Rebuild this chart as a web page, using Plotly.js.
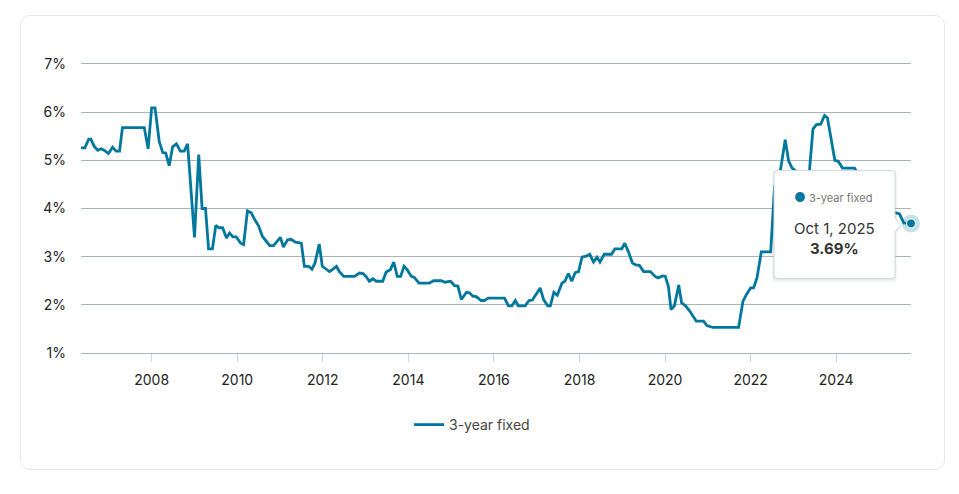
<!DOCTYPE html>
<html>
<head>
<meta charset="utf-8">
<script src="https://cdn.plot.ly/plotly-3.0.1.min.js"></script>
<style>
  html, body { margin: 0; padding: 0; background: #ffffff; }
  #card { position: absolute; left: 20px; top: 15px; width: 923px; height: 453px;
          border: 1px solid #e3e8ee; border-radius: 10px; background: #ffffff; }
  #chart { position: absolute; left: 0; top: 0; width: 959px; height: 494px; }
</style>
</head>
<body>
<div id="card"></div>
<div id="chart"></div>
<script>
// ---- data (decimal year, rate %) ----
const seriesName = "3-year fixed";
const years = [
  2006.35, 2006.44, 2006.53, 2006.58, 2006.66, 2006.74, 2006.82, 2006.89, 2006.99, 2007.09,
  2007.17, 2007.25, 2007.32, 2007.83, 2007.92, 2008.00, 2008.08, 2008.18, 2008.26, 2008.33,
  2008.41, 2008.49, 2008.58, 2008.67, 2008.76, 2008.84, 2009.00, 2009.10, 2009.18, 2009.26,
  2009.33, 2009.42, 2009.50, 2009.57, 2009.66, 2009.75, 2009.82, 2009.90, 2009.98, 2010.08,
  2010.15, 2010.24, 2010.33, 2010.40, 2010.50, 2010.59, 2010.68, 2010.76, 2010.85, 2010.93,
  2011.01, 2011.08, 2011.18, 2011.26, 2011.36, 2011.50, 2011.57, 2011.67, 2011.75, 2011.82,
  2011.92, 2011.99, 2012.08, 2012.16, 2012.24, 2012.32, 2012.39, 2012.49, 2012.74, 2012.86,
  2012.94, 2013.01, 2013.09, 2013.17, 2013.25, 2013.40, 2013.48, 2013.58, 2013.66, 2013.74,
  2013.82, 2013.90, 2013.97, 2014.07, 2014.14, 2014.25, 2014.49, 2014.59, 2014.77, 2014.86,
  2014.99, 2015.08, 2015.16, 2015.24, 2015.36, 2015.43, 2015.51, 2015.59, 2015.70, 2015.78,
  2015.87, 2016.25, 2016.34, 2016.42, 2016.50, 2016.57, 2016.73, 2016.82, 2016.90, 2016.99,
  2017.08, 2017.16, 2017.26, 2017.32, 2017.40, 2017.48, 2017.59, 2017.66, 2017.74, 2017.82,
  2017.90, 2017.98, 2018.06, 2018.16, 2018.24, 2018.33, 2018.41, 2018.48, 2018.58, 2018.75,
  2018.83, 2018.99, 2019.06, 2019.14, 2019.24, 2019.32, 2019.40, 2019.50, 2019.66, 2019.77,
  2019.84, 2019.94, 2020.01, 2020.08, 2020.14, 2020.22, 2020.32, 2020.39, 2020.48, 2020.57,
  2020.65, 2020.73, 2020.90, 2020.98, 2021.12, 2021.72, 2021.82, 2021.90, 2022.00, 2022.07,
  2022.15, 2022.25, 2022.47, 2022.56, 2022.70, 2022.81, 2022.89, 2022.97, 2023.04, 2023.12,
  2023.22, 2023.30, 2023.38, 2023.46, 2023.54, 2023.64, 2023.73, 2023.80, 2023.86, 2023.92,
  2023.97, 2024.05, 2024.15, 2024.43, 2024.52, 2024.60, 2024.70, 2024.78, 2024.88, 2024.97,
  2025.05, 2025.15, 2025.25, 2025.40, 2025.48, 2025.58, 2025.75
];
const rates = [
  5.26, 5.26, 5.44, 5.44, 5.29, 5.21, 5.24, 5.21, 5.14, 5.27,
  5.19, 5.19, 5.68, 5.68, 5.24, 6.09, 6.09, 5.39, 5.16, 5.15,
  4.89, 5.28, 5.34, 5.19, 5.19, 5.34, 3.40, 5.12, 4.00, 4.00,
  3.16, 3.16, 3.65, 3.60, 3.60, 3.39, 3.49, 3.41, 3.41, 3.28,
  3.25, 3.95, 3.91, 3.78, 3.64, 3.42, 3.32, 3.23, 3.23, 3.31,
  3.40, 3.20, 3.35, 3.36, 3.30, 3.28, 2.80, 2.80, 2.74, 2.87,
  3.26, 2.80, 2.74, 2.69, 2.74, 2.80, 2.69, 2.59, 2.59, 2.66,
  2.65, 2.59, 2.49, 2.54, 2.49, 2.49, 2.68, 2.73, 2.89, 2.59,
  2.59, 2.80, 2.73, 2.59, 2.57, 2.45, 2.45, 2.50, 2.50, 2.47,
  2.49, 2.40, 2.39, 2.11, 2.26, 2.25, 2.18, 2.17, 2.09, 2.09,
  2.14, 2.14, 1.98, 1.98, 2.09, 1.98, 1.98, 2.09, 2.10, 2.23,
  2.35, 2.11, 1.98, 1.98, 2.26, 2.20, 2.45, 2.49, 2.65, 2.49,
  2.67, 2.69, 2.99, 3.01, 3.05, 2.89, 2.99, 2.89, 3.05, 3.05,
  3.16, 3.16, 3.28, 3.11, 2.87, 2.83, 2.82, 2.69, 2.69, 2.59,
  2.56, 2.60, 2.59, 2.38, 1.90, 1.98, 2.41, 2.04, 1.98, 1.88,
  1.78, 1.66, 1.66, 1.57, 1.53, 1.53, 2.07, 2.21, 2.35, 2.35,
  2.56, 3.10, 3.10, 4.45, 4.80, 5.43, 4.99, 4.84, 4.79, 4.62,
  4.58, 4.66, 4.81, 5.65, 5.74, 5.75, 5.93, 5.88, 5.57, 5.26,
  5.00, 4.98, 4.84, 4.84, 4.70, 4.62, 4.45, 4.30, 4.15, 4.05,
  4.00, 3.96, 3.93, 3.91, 3.89, 3.70, 3.69
];
const yTicks = [1, 2, 3, 4, 5, 6, 7];
const monthNames = ["Jan","Feb","Mar","Apr","May","Jun","Jul","Aug","Sep","Oct","Nov","Dec"];

// ---- helpers ----
function yearToDate(y) {
  const yr = Math.floor(y);
  const s = Date.UTC(yr, 0, 1), e = Date.UTC(yr + 1, 0, 1);
  return new Date(s + (y - yr) * (e - s)).toISOString().slice(0, 10);
}
const dates = years.map(yearToDate);
const lastDate = dates[dates.length - 1];
const lastRate = rates[rates.length - 1];
const ld = new Date(lastDate + "T00:00:00Z");
const lastDateLabel = monthNames[ld.getUTCMonth()] + " " + ld.getUTCDate() + ", " + ld.getUTCFullYear();

const COLOR = "#00779c";
const GRID = "#aab4be";
const FONT = "Inter, 'Noto Sans', 'DejaVu Sans', sans-serif";

// layout geometry (pixels in the 959x494 figure)
const W = 959, H = 494;
const M = { l: 81, r: 48, t: 64, b: 141 };
const PW = W - M.l - M.r, PH = H - M.t - M.b;
const px = x => (x - M.l) / PW;
const py = y => (H - M.b - y) / PH;

// tooltip box path (paper coords)
const bx0 = px(774), bx1 = px(895), byT = py(170.5), byB = py(278.5);
const rx = 4 / PW, ry = 4 / PH;
const ax = px(901), ay1 = py(218), ay = py(225), ay2 = py(232);
function boxPath(dx, dy, grow) {
  const gx = grow / PW, gy = grow / PH;
  const x0 = bx0 - gx + dx / PW, x1 = bx1 + gx + dx / PW;
  const yt = byT + gy - dy / PH, yb = byB - gy - dy / PH;
  return `M ${x0 + rx},${yt} L ${x1 - rx},${yt} Q ${x1},${yt} ${x1},${yt - ry} ` +
         `L ${x1},${ay1 - dy / PH} L ${ax + dx / PW},${ay - dy / PH} L ${x1},${ay2 - dy / PH} ` +
         `L ${x1},${yb + ry} Q ${x1},${yb} ${x1 - rx},${yb} L ${x0 + rx},${yb} ` +
         `Q ${x0},${yb} ${x0},${yb + ry} L ${x0},${yt - ry} Q ${x0},${yt} ${x0 + rx},${yt} Z`;
}

const traces = [
  {
    x: dates, y: rates, type: "scatter", mode: "lines", name: seriesName,
    line: { color: COLOR, width: 2.8, shape: "linear" },
    hoverinfo: "skip"
  },
  {
    x: [lastDate], y: [lastRate], type: "scatter", mode: "markers", showlegend: false,
    marker: { size: 18, color: "rgba(0,119,156,0.22)" }, hoverinfo: "skip", cliponaxis: false
  },
  {
    x: [lastDate], y: [lastRate], type: "scatter", mode: "markers", showlegend: false,
    marker: { size: 9, color: COLOR, line: { color: "#ffffff", width: 1 } }, hoverinfo: "skip", cliponaxis: false
  }
];

const layout = {
  width: W, height: H,
  margin: M,
  paper_bgcolor: "rgba(0,0,0,0)",
  plot_bgcolor: "rgba(0,0,0,0)",
  font: { family: FONT, size: 14, color: "#222222" },
  showlegend: true,
  legend: {
    orientation: "h", x: px(472), xanchor: "center", y: py(425), yanchor: "middle",
    font: { family: FONT, size: 14, color: "#444444" }, bgcolor: "rgba(0,0,0,0)"
  },
  xaxis: {
    type: "date", range: [dates[0], lastDate],
    tick0: "2008-01-01", dtick: "M24", tickformat: "%Y",
    showgrid: false, zeroline: false,
    showline: true, mirror: true, linecolor: GRID, linewidth: 1,
    ticks: "outside", ticklen: 8, tickcolor: "#c9d5e0", tickwidth: 1,
    ticklabelstandoff: 6,
    tickfont: { family: FONT, size: 14, color: "#222222" },
    fixedrange: true
  },
  yaxis: {
    range: [yTicks[0], yTicks[yTicks.length - 1]],
    tickvals: yTicks, ticktext: yTicks.map(v => v + "%"),
    showgrid: true, gridcolor: GRID, gridwidth: 1,
    zeroline: false, showline: false, ticks: "",
    ticklabelstandoff: 14,
    tickfont: { family: FONT, size: 14, color: "#222222" },
    fixedrange: true
  },
  shapes: [
    { type: "path", xref: "paper", yref: "paper", path: boxPath(0, 2, 2), fillcolor: "rgba(0,0,0,0.035)", line: { width: 0 }, layer: "above" },
    { type: "path", xref: "paper", yref: "paper", path: boxPath(0, 1, 1), fillcolor: "rgba(0,0,0,0.05)", line: { width: 0 }, layer: "above" },
    { type: "path", xref: "paper", yref: "paper", path: boxPath(0, 0, 0), fillcolor: "#ffffff", line: { color: "#cfd9e0", width: 1 }, layer: "above" }
  ],
  annotations: [
    {
      xref: "paper", yref: "paper", x: px(792), y: py(197), xanchor: "left", yanchor: "middle",
      showarrow: false,
      text: `<span style="color:${COLOR};font-size:13px">●</span> ${seriesName}`,
      font: { family: FONT, size: 11, color: "#777777" }
    },
    {
      xref: "paper", yref: "paper", x: px(834), y: py(228), xanchor: "center", yanchor: "middle",
      showarrow: false, text: lastDateLabel,
      font: { family: FONT, size: 15, color: "#333333" }
    },
    {
      xref: "paper", yref: "paper", x: px(834), y: py(248.5), xanchor: "center", yanchor: "middle",
      showarrow: false, text: `<b>${lastRate.toFixed(2)}%</b>`,
      font: { family: FONT, size: 15, color: "#333333" }
    }
  ],
  hovermode: false
};

Plotly.newPlot("chart", traces, layout, { displayModeBar: false, staticPlot: true });
</script>
</body>
</html>
